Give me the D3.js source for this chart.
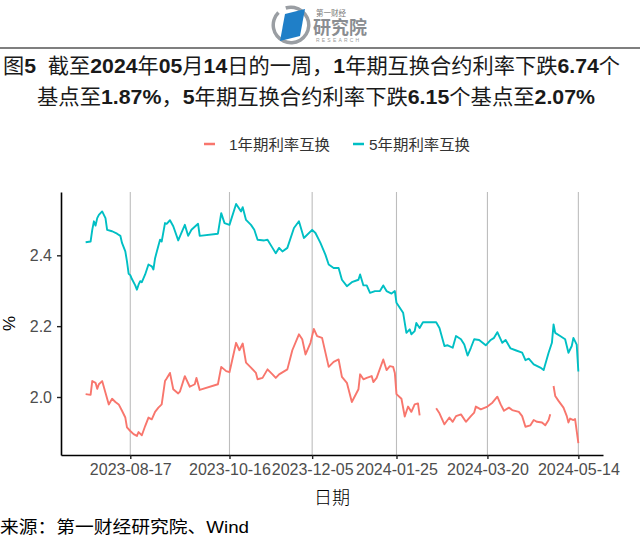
<!DOCTYPE html>
<html>
<head>
  <meta charset="utf-8">
  <title>互换合约利率</title>
  <script src="https://d3js.org/d3.v7.min.js"></script>
  <style>
    html, body { margin: 0; background: #fff; overflow: hidden; }
    text { font-family: "Liberation Sans", Arial, "Noto Sans CJK SC", sans-serif; }
  </style>
</head>
<body>
<svg width="640" height="546"></svg>

<script>
// 5年期利率互换
const dates5y = ["2023-07-21","2023-07-24","2023-07-25","2023-07-26","2023-07-27","2023-07-28","2023-07-29","2023-07-31",
  "2023-08-02","2023-08-03","2023-08-06","2023-08-09","2023-08-11","2023-08-12","2023-08-14","2023-08-15","2023-08-16",
  "2023-08-17","2023-08-18","2023-08-20","2023-08-21","2023-08-22","2023-08-23","2023-08-24","2023-08-26","2023-08-28",
  "2023-08-30","2023-08-31","2023-09-01","2023-09-03","2023-09-04","2023-09-05","2023-09-07","2023-09-08","2023-09-10",
  "2023-09-12","2023-09-15","2023-09-19","2023-09-21","2023-09-23","2023-09-27","2023-09-28","2023-10-09","2023-10-11",
  "2023-10-13","2023-10-16","2023-10-20","2023-10-23","2023-10-24","2023-10-26","2023-10-29","2023-10-31","2023-11-02",
  "2023-11-06","2023-11-08","2023-11-11","2023-11-13","2023-11-15","2023-11-17","2023-11-20","2023-11-24","2023-11-27",
  "2023-11-30","2023-12-05","2023-12-07","2023-12-10","2023-12-13","2023-12-15","2023-12-18","2023-12-21","2023-12-23",
  "2023-12-26","2023-12-29","2024-01-02","2024-01-03","2024-01-05","2024-01-07","2024-01-09","2024-01-12","2024-01-15",
  "2024-01-17","2024-01-19","2024-01-22","2024-01-24","2024-01-25","2024-01-29","2024-01-31","2024-02-02","2024-02-03",
  "2024-02-05","2024-02-06","2024-02-08","2024-02-10","2024-02-18","2024-02-20","2024-02-23","2024-02-25","2024-02-28",
  "2024-03-01","2024-03-04","2024-03-06","2024-03-08","2024-03-10","2024-03-12","2024-03-15","2024-03-19","2024-03-22",
  "2024-03-24","2024-03-26","2024-03-29","2024-03-31","2024-04-03","2024-04-06","2024-04-10","2024-04-12","2024-04-14",
  "2024-04-17","2024-04-21","2024-04-23","2024-04-26","2024-04-28","2024-04-29","2024-04-30","2024-05-03","2024-05-06",
  "2024-05-08","2024-05-10","2024-05-11","2024-05-13","2024-05-14"];
const rate5y = [2.437,2.439,2.472,2.496,2.484,2.505,2.514,2.524,
  2.505,2.472,2.468,2.461,2.455,2.435,2.411,2.383,2.348,
  2.344,2.333,2.315,2.303,2.317,2.327,2.324,2.346,2.374,
  2.369,2.360,2.392,2.427,2.444,2.439,2.491,2.489,2.499,
  2.482,2.442,2.486,2.455,2.472,2.489,2.455,2.461,2.519,
  2.491,2.486,2.545,2.524,2.536,2.500,2.486,2.472,2.444,
  2.442,2.444,2.421,2.406,2.421,2.411,2.421,2.477,2.496,
  2.449,2.472,2.463,2.435,2.402,2.374,2.364,2.364,2.331,
  2.313,2.324,2.331,2.346,2.315,2.315,2.294,2.299,2.299,
  2.315,2.299,2.292,2.299,2.266,2.238,2.181,2.191,2.177,
  2.186,2.209,2.195,2.211,2.211,2.195,2.144,2.146,2.139,
  2.172,2.163,2.148,2.117,2.139,2.163,2.161,2.146,2.161,
  2.167,2.183,2.153,2.161,2.137,2.132,2.125,2.104,2.108,
  2.092,2.083,2.076,2.125,2.153,2.205,2.181,2.172,2.163,
  2.125,2.144,2.167,2.148,2.072];

// 1年期利率互换（null 为缺失）
const dates1y = ["2023-07-21","2023-07-24","2023-07-25","2023-07-27","2023-07-28","2023-07-29","2023-07-31","2023-08-02",
  "2023-08-04","2023-08-06","2023-08-08","2023-08-10","2023-08-12","2023-08-14","2023-08-15","2023-08-17","2023-08-19",
  "2023-08-21","2023-08-22","2023-08-24","2023-08-26","2023-08-28","2023-08-30","2023-09-01","2023-09-03","2023-09-05",
  "2023-09-07","2023-09-08","2023-09-10","2023-09-12","2023-09-15","2023-09-16","2023-09-19","2023-09-22","2023-09-25",
  "2023-09-26","2023-09-28","2023-10-09","2023-10-11","2023-10-14","2023-10-16","2023-10-20","2023-10-22","2023-10-24",
  "2023-10-26","2023-10-29","2023-11-01","2023-11-02","2023-11-05","2023-11-08","2023-11-11","2023-11-13","2023-11-15",
  "2023-11-20","2023-11-23","2023-11-27","2023-11-29","2023-12-01","2023-12-04","2023-12-06","2023-12-08","2023-12-11",
  "2023-12-15","2023-12-18","2023-12-21","2023-12-23","2023-12-26","2023-12-29","2024-01-02","2024-01-03","2024-01-05",
  "2024-01-07","2024-01-10","2024-01-11","2024-01-13","2024-01-17","2024-01-19","2024-01-21","2024-01-23","2024-01-24",
  "2024-01-25","2024-01-28","2024-01-30","2024-02-01","2024-02-03","2024-02-05","2024-02-07","2024-02-08","2024-02-09",
  "2024-02-18","2024-02-20","2024-02-23","2024-02-26","2024-02-28","2024-03-01","2024-03-04","2024-03-07","2024-03-10",
  "2024-03-12","2024-03-13","2024-03-16","2024-03-20","2024-03-23","2024-03-26","2024-03-28","2024-03-30","2024-04-02",
  "2024-04-04","2024-04-08","2024-04-10","2024-04-12","2024-04-15","2024-04-17","2024-04-19","2024-04-22","2024-04-24",
  "2024-04-26","2024-04-27","2024-04-28","2024-04-29","2024-04-30","2024-05-02","2024-05-05","2024-05-07","2024-05-08",
  "2024-05-09","2024-05-11","2024-05-12","2024-05-14"];
const rate1y = [2.008,2.006,2.045,2.040,2.023,2.036,2.045,2.012,
  1.979,1.995,1.986,1.979,1.961,1.942,1.914,1.904,1.895,
  1.890,1.901,1.892,1.918,1.942,1.937,1.958,1.970,1.979,
  2.045,2.052,2.068,2.022,2.010,2.015,2.059,2.029,2.036,
  2.054,2.020,2.036,2.085,2.073,2.070,2.153,2.132,2.151,
  2.097,2.083,2.068,2.050,2.054,2.078,2.064,2.054,2.064,
  2.078,2.132,2.177,2.163,2.120,2.153,2.192,2.172,2.167,
  2.085,2.099,2.106,2.057,2.040,1.986,2.022,2.064,2.050,
  2.054,2.059,2.042,2.054,2.106,2.076,2.087,2.085,2.068,
  2.008,1.995,1.945,1.973,1.958,1.979,1.982,1.948,null,
  1.968,1.954,1.923,1.942,1.930,1.946,1.951,1.930,1.946,
  1.956,1.973,1.965,1.973,1.984,2.001,1.979,1.961,1.970,
  1.963,1.958,1.946,1.916,1.920,1.935,1.930,1.928,1.920,
  1.935,1.951,null,2.031,2.003,1.989,1.970,1.946,1.928,
  1.939,1.935,1.938,1.870];

const seriesNames = ["1年期利率互换", "5年期利率互换"];
const seriesColors = ["#F8766D", "#00BFC4"];
const xTickLabels = ["2023-08-17", "2023-10-16", "2023-12-05", "2024-01-25", "2024-03-20", "2024-05-14"];
const yTickValues = [2.0, 2.2, 2.4];

const titleLines = [
  "图5\u00a0\u00a0截至2024年05月14日的一周，1年期互换合约利率下跌6.74个",
  "基点至1.87%，5年期互换合约利率下跌6.15个基点至2.07%"
];
const sourceText = "来源：第一财经研究院、Wind";

const parse = d3.timeParse("%Y-%m-%d");
const series = [
  dates1y.map((d, i) => ({ date: parse(d), v: rate1y[i] })),
  dates5y.map((d, i) => ({ date: parse(d), v: rate5y[i] }))
];

const svg = d3.select("svg");
const panel = { left: 61, right: 603, top: 192, bottom: 455 };

// ggplot 风格的 5% 扩展
const allPts = series.flat().filter(d => d.v != null);
const [t0, t1] = d3.extent(allPts, d => +d.date);
const [v0, v1] = d3.extent(allPts, d => d.v);
const tPad = (t1 - t0) * 0.05, vPad = (v1 - v0) * 0.05;

const x = d3.scaleTime()
  .domain([new Date(t0 - tPad), new Date(t1 + tPad)])
  .range([panel.left, panel.right]);
const y = d3.scaleLinear()
  .domain([v0 - vPad, v1 + vPad])
  .range([panel.bottom, panel.top]);

// logo
const logo = svg.append("g");
logo.append("path")
  .attr("d", d3.arc()({ innerRadius: 16, outerRadius: 19.5, startAngle: -0.3, endAngle: Math.PI * 1.75 }))
  .attr("transform", "translate(291,25)")
  .attr("fill", "#9a9ea3");
logo.append("path")
  .attr("d", "M285,14 L305,9 L300,36 L280,41 Z")
  .attr("fill", "#1f7fc8");
logo.append("text").attr("x", 316).attr("y", 16).attr("font-size", 7.5).attr("fill", "#777")
  .attr("font-family", "Noto Sans CJK SC").text("第一财经");
logo.append("text").attr("x", 313).attr("y", 34).attr("font-size", 18).attr("fill", "#8a8d91")
  .attr("font-family", "Noto Sans CJK SC").attr("font-weight", "bold").text("研究院");
logo.append("text").attr("x", 316).attr("y", 42).attr("font-size", 5).attr("fill", "#999")
  .attr("letter-spacing", 2.2).text("RESEARCH");

svg.append("line")
  .attr("x1", 0).attr("x2", 640).attr("y1", 48).attr("y2", 48)
  .attr("stroke", "#555").attr("stroke-width", 1.5);

// 标题：数字加粗
function titleText(str, xPos, yPos, len) {
  const t = svg.append("text").attr("x", xPos).attr("y", yPos).attr("font-size", 21).attr("fill", "#1a1a1a")
    .attr("textLength", len).attr("lengthAdjust", "spacingAndGlyphs");
  str.split(/([0-9.%]+)/).filter(s => s.length).forEach(part => {
    t.append("tspan")
      .attr("font-weight", /^[0-9.%]+$/.test(part) ? "bold" : "normal")
      .text(part);
  });
}
titleText(titleLines[0], 3, 73, 617);
titleText(titleLines[1], 37, 104, 558);

// 图例
const legendPos = [{ key: 204, text: 229 }, { key: 353, text: 369 }];
seriesNames.forEach((name, i) => {
  svg.append("line")
    .attr("x1", legendPos[i].key).attr("x2", legendPos[i].key + 11)
    .attr("y1", 144).attr("y2", 144)
    .attr("stroke", seriesColors[i]).attr("stroke-width", 2.5);
  svg.append("text")
    .attr("x", legendPos[i].text).attr("y", 150)
    .attr("font-size", 15).attr("fill", "#333")
    .attr("textLength", 101).attr("lengthAdjust", "spacingAndGlyphs").text(name);
});

// 竖向网格线
const tickDates = xTickLabels.map(parse);
svg.append("g").selectAll("line").data(tickDates).join("line")
  .attr("x1", d => x(d)).attr("x2", d => x(d))
  .attr("y1", panel.top).attr("y2", panel.bottom)
  .attr("stroke", "#bdbdbd").attr("stroke-width", 1.1);

// 折线
const line = d3.line()
  .defined(d => d.v != null)
  .x(d => x(d.date))
  .y(d => y(d.v));
series.forEach((s, i) => {
  svg.append("path")
    .datum(s)
    .attr("fill", "none")
    .attr("stroke", seriesColors[i])
    .attr("stroke-width", 1.9)
    .attr("stroke-linejoin", "round")
    .attr("d", line);
});

// 坐标轴
const xAxis = svg.append("g")
  .attr("transform", `translate(0,${panel.bottom})`)
  .call(d3.axisBottom(x).tickValues(tickDates).tickFormat(d3.timeFormat("%Y-%m-%d"))
    .tickSize(4).tickSizeOuter(0).tickPadding(5));
const yAxis = svg.append("g")
  .attr("transform", `translate(${panel.left},0)`)
  .call(d3.axisLeft(y).tickValues(yTickValues).tickFormat(d3.format(".1f"))
    .tickSize(4).tickSizeOuter(0).tickPadding(5));
[xAxis, yAxis].forEach(g => {
  g.select(".domain").attr("stroke", "#000").attr("stroke-width", 1.6);
  g.selectAll(".tick line").attr("stroke", "#222").attr("stroke-width", 1.4);
  g.selectAll(".tick text").attr("font-size", 16).attr("fill", "#4d4d4d")
    .attr("font-family", "Liberation Sans, Arial, sans-serif");
});

// 轴标题
svg.append("text").attr("x", (panel.left + panel.right) / 2).attr("y", 504)
  .attr("text-anchor", "middle").attr("font-size", 18).attr("fill", "#000")
  .attr("font-family", "Noto Sans CJK SC").attr("font-weight", 300).text("日期");
svg.append("text")
  .attr("transform", `translate(15,${(panel.top + panel.bottom) / 2}) rotate(-90)`)
  .attr("text-anchor", "middle").attr("font-size", 17).attr("fill", "#000").text("%");

// 资料来源
svg.append("text").attr("x", 0).attr("y", 533).attr("font-size", 17).attr("fill", "#000")
  .attr("textLength", 249).attr("lengthAdjust", "spacingAndGlyphs").text(sourceText);
</script>
</body>
</html>
